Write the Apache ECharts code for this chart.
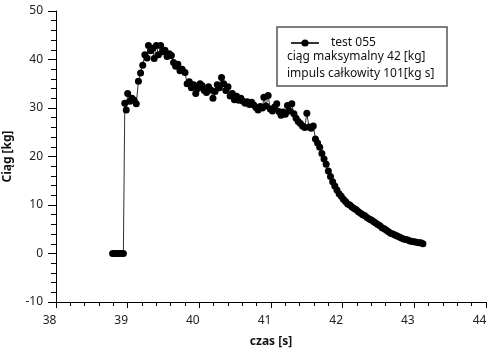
<!DOCTYPE html>
<html>
<head>
<meta charset="utf-8">
<script src="https://cdn.jsdelivr.net/npm/echarts@6/dist/echarts.min.js"></script>
<style>
  html, body { margin: 0; padding: 0; background: #fff; }
  #chart { width: 492px; height: 352px; }
</style>
</head>
<body>
<div id="chart"></div>
<script>
  // czas [s] i ciąg [kg]
  const czas = [
    38.79, 38.82, 38.85, 38.88, 38.91, 38.94, 38.96, 38.98, 39.00, 39.03,
    39.06, 39.09, 39.12, 39.15, 39.18, 39.21, 39.24, 39.27, 39.29, 39.32,
    39.35, 39.37, 39.40, 39.43, 39.46, 39.49, 39.52, 39.55, 39.58, 39.61,
    39.64, 39.67, 39.70, 39.73, 39.76, 39.80, 39.83, 39.86, 39.89, 39.92,
    39.95, 39.98, 40.01, 40.04, 40.07, 40.10, 40.13, 40.16, 40.19, 40.22,
    40.25, 40.28, 40.31, 40.34, 40.37, 40.40, 40.43, 40.46, 40.49, 40.52,
    40.55, 40.58, 40.61, 40.64, 40.67, 40.70, 40.73, 40.76, 40.79, 40.82,
    40.85, 40.88, 40.90, 40.93, 40.96, 40.99, 41.02, 41.05, 41.08, 41.11,
    41.14, 41.17, 41.20, 41.23, 41.26, 41.29, 41.32, 41.35, 41.38, 41.41,
    41.44, 41.47, 41.50, 41.53, 41.56, 41.59, 41.62, 41.65, 41.68, 41.71,
    41.74, 41.77, 41.80, 41.83, 41.86, 41.89, 41.92, 41.95, 41.98, 42.01,
    42.04, 42.07, 42.10, 42.13, 42.16, 42.19, 42.22, 42.25, 42.28, 42.31,
    42.34, 42.37, 42.40, 42.43, 42.46, 42.49, 42.52, 42.55, 42.58, 42.61,
    42.64, 42.67, 42.70, 42.73, 42.76, 42.79, 42.82, 42.85, 42.88, 42.91,
    42.94, 42.97, 43.00, 43.03, 43.06, 43.09, 43.12
  ];
  const ciag = [
    0, 0, 0, 0, 0, 0, 31.0, 29.6, 33.0, 31.4,
    32.0, 31.6, 30.9, 35.5, 37.2, 38.8, 41.0, 40.3, 42.9, 41.8,
    42.3, 40.2, 42.9, 41.0, 42.9, 41.6, 41.9, 40.6, 41.2, 40.8,
    39.4, 38.6, 39.0, 37.7, 38.0, 37.3, 35.0, 35.4, 34.2, 34.8,
    33.0, 34.0, 35.0, 34.6, 33.6, 33.2, 34.4, 33.7, 32.0, 33.4,
    34.8, 34.2, 36.3, 35.0, 33.6, 34.4, 32.5, 33.0, 31.7, 32.4,
    31.6, 32.0, 31.4, 31.0, 31.3, 30.7, 31.2, 30.6, 30.1, 29.6,
    30.3, 30.0, 32.2, 30.4, 32.6, 29.8, 29.4, 30.2, 30.9, 29.3,
    28.5, 29.2, 28.7, 30.5, 29.4, 30.9, 28.8, 27.9, 27.2, 26.8,
    26.3, 26.0, 28.9, 26.1, 25.8, 26.3, 23.6, 22.8, 21.9, 20.6,
    19.5, 18.4, 17.0, 15.9, 14.8, 13.9, 13.1, 12.3, 11.8, 11.2,
    10.7, 10.2, 10.0, 9.6, 9.3, 9.0, 8.6, 8.3, 8.0, 7.8,
    7.4, 7.1, 6.9, 6.6, 6.3, 6.0, 5.7, 5.3, 5.1, 4.8,
    4.5, 4.2, 4.0, 3.8, 3.6, 3.4, 3.2, 3.0, 2.9, 2.8,
    2.6, 2.5, 2.4, 2.3, 2.2, 2.2, 2.0
  ];
  const nazwaSerii = 'test 055';
  const opisLinie = ['ciąg maksymalny 42 [kg]', 'impuls całkowity 101[kg s]'];

  const font = 'Noto Sans, sans-serif';
  const chart = echarts.init(document.getElementById('chart'), null, { renderer: 'canvas' });

  const option = {
    animation: false,
    backgroundColor: '#fff',
    // bez automatycznego dopasowania do etykiet - siatka dokładnie w tych granicach
    grid: { left: 56, right: 6, top: 11, bottom: 50, containLabel: false, outerBoundsMode: 'none' },
    legend: {
      data: [nazwaSerii],
      left: 285,
      top: 32,
      itemWidth: 28,
      itemHeight: 9,
      textStyle: { fontFamily: font, fontSize: 12, color: '#111', padding: [0, 0, 0, 7] },
    },
    graphic: [
      {
        type: 'rect',
        shape: { x: 277, y: 27, width: 170, height: 59 },
        style: { fill: '#fff', stroke: '#555', lineWidth: 1.5 },
        z: 0,
      },
      {
        type: 'text',
        left: 287, top: 51,
        style: { text: opisLinie[0], fontFamily: font, fontSize: 12, fill: '#111' },
        z: 10,
      },
      {
        type: 'text',
        left: 287, top: 68,
        style: { text: opisLinie[1], fontFamily: font, fontSize: 12, fill: '#111' },
        z: 10,
      },
    ],
    xAxis: {
      type: 'value',
      min: 38,
      max: 44,
      interval: 1,
      name: 'czas [s]',
      nameLocation: 'middle',
      nameGap: 34,
      nameTextStyle: { fontFamily: font, fontSize: 12, fontWeight: 'bold', color: '#111' },
      axisLine: { onZero: false, lineStyle: { color: '#000', width: 1 } },
      axisTick: { length: 6, lineStyle: { color: '#000' } },
      minorTick: { show: true, splitNumber: 5, length: 4, lineStyle: { color: '#000' } },
      splitLine: { show: false },
      // etykiety dosunięte do prawej krawędzi podziałki
      axisLabel: { fontFamily: font, fontSize: 12, color: '#222', margin: 13, padding: [0, 13, 0, 0] },
    },
    yAxis: {
      type: 'value',
      min: -10,
      max: 50,
      interval: 10,
      name: 'Ciąg [kg]',
      nameLocation: 'middle',
      nameGap: 42,
      nameTextStyle: { fontFamily: font, fontSize: 12, fontWeight: 'bold', color: '#111' },
      axisLine: { show: true, onZero: false, lineStyle: { color: '#000', width: 1 } },
      axisTick: { show: true, length: 8, lineStyle: { color: '#000' } },
      minorTick: { show: true, splitNumber: 5, length: 5, lineStyle: { color: '#000' } },
      splitLine: { show: false },
      axisLabel: { fontFamily: font, fontSize: 12, color: '#222', margin: 13 },
    },
    series: [
      {
        name: nazwaSerii,
        type: 'line',
        data: czas.map((t, i) => [t, ciag[i]]),
        symbol: 'circle',
        symbolSize: 7,
        showAllSymbol: true,
        itemStyle: { color: '#000' },
        lineStyle: { color: '#333', width: 1 },
        z: 5,
      },
    ],
  };

  chart.setOption(option);
</script>
</body>
</html>
